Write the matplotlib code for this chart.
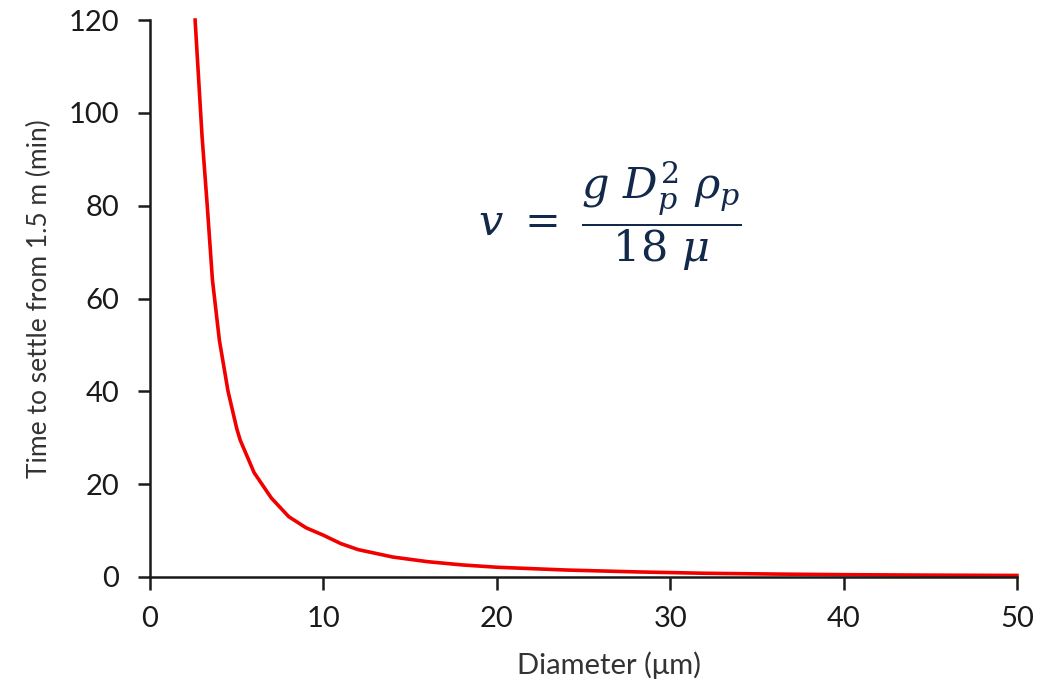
import matplotlib
matplotlib.use("Agg")
import matplotlib.pyplot as plt

# values
diameter = [2.6, 3.0, 3.3, 3.6, 4.0, 4.5, 5.0, 5.2, 6.0, 7.0, 8.0, 9.0, 10, 11, 12,
            14, 16, 18, 20, 24, 28, 32, 36, 40, 45, 50]
settle_time = [120, 95, 80, 64, 51, 40, 32, 29.5, 22.5, 17, 13, 10.6, 9.0, 7.2, 5.9,
               4.3, 3.3, 2.6, 2.1, 1.5, 1.1, 0.8, 0.63, 0.5, 0.4, 0.33]
x_ticks = [0, 10, 20, 30, 40, 50]
y_ticks = [0, 20, 40, 60, 80, 100, 120]

plt.rcParams['font.family'] = ['Lato', 'DejaVu Sans']
plt.rcParams['mathtext.fontset'] = 'dejavuserif'

fig = plt.figure(figsize=(10.58, 6.91), dpi=100)
ax = fig.add_axes([0.1418, 0.165, 0.8194, 0.806])

ax.plot(diameter, settle_time, color='#f20000', linewidth=2.6, clip_on=False)

ax.set_xlim(0, 50)
ax.set_ylim(0, 120)
ax.set_xticks(x_ticks)
ax.set_yticks(y_ticks)

for side in ['top', 'right']:
    ax.spines[side].set_visible(False)
for side in ['left', 'bottom']:
    ax.spines[side].set_linewidth(1.8)
    ax.spines[side].set_color('#1a1a1a')

ax.tick_params(direction='out', length=9, width=1.8, colors='#1a1a1a',
               labelsize=21)
ax.tick_params(axis='y', pad=13)
ax.tick_params(axis='x', pad=12)

ax.set_xlabel('Diameter (μm)', fontsize=21, color='#333333')
ax.set_ylabel('Time to settle from 1.5 m (min)', fontsize=19, color='#333333')
ax.xaxis.set_label_coords(0.53, -0.133)
ax.yaxis.set_label_coords(-0.113, 0.5)

ax.text(0.53, 0.648, r'$v\ =\ \dfrac{g\ D_p^{2}\ \rho_p}{18\ \mu}$',
        transform=ax.transAxes, fontsize=31, color='#13294b',
        ha='center', va='center')

fig.savefig('out.png', dpi=100)
